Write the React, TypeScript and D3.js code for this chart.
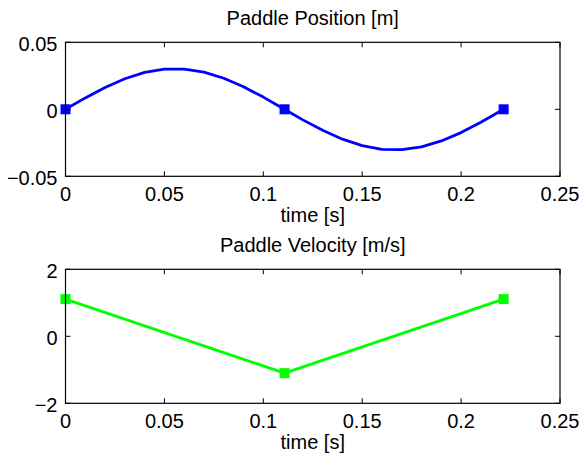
import React from "react";
import * as d3 from "d3";

const posTime = [0, 0.01, 0.02, 0.03, 0.04, 0.05, 0.06, 0.07, 0.08, 0.09, 0.1, 0.11, 0.12, 0.13, 0.14, 0.15, 0.16, 0.17, 0.18, 0.19, 0.2, 0.21, 0.2215];
const posValue = [0, 0.0085, 0.0163, 0.0228, 0.0275, 0.03, 0.03, 0.0278, 0.0232, 0.0168, 0.0091, 0.0006, -0.0079, -0.0157, -0.0223, -0.0271, -0.0299, -0.0301, -0.028, -0.0236, -0.0174, -0.0097, 0];
const knotTime = [0, 0.11075, 0.2215];
const knotPos = [0, 0, 0];
const velValue = [1.11, -1.1, 1.11];

const xTicks = [0, 0.05, 0.1, 0.15, 0.2, 0.25];
const xTickLabels = ["0", "0.05", "0.1", "0.15", "0.2", "0.25"];
const posTicks = [-0.05, 0, 0.05];
const posTickLabels = ["\u22120.05", "0", "0.05"];
const velTicks = [-2, 0, 2];
const velTickLabels = ["\u22122", "0", "2"];

const FONT = "'Liberation Sans', Arial, Helvetica, sans-serif";
const FS = 20;

type PanelProps = {
  top: number;
  bottom: number;
  title: string;
  yDomain: [number, number];
  yTicks: number[];
  yLabels: string[];
  lineX: number[];
  lineY: number[];
  markX: number[];
  markY: number[];
  color: string;
};

const LEFT = 65.5;
const RIGHT = 560;

function Panel(p: PanelProps) {
  const x = d3.scaleLinear().domain([0, 0.25]).range([LEFT, RIGHT]);
  const y = d3.scaleLinear().domain(p.yDomain).range([p.bottom, p.top]);
  const line = d3
    .line<number>()
    .x((_, i) => x(p.lineX[i]))
    .y((d) => y(d));
  const tl = 5;
  const ms = 10;
  return (
    <g>
      <rect x={LEFT} y={p.top} width={RIGHT - LEFT} height={p.bottom - p.top} fill="white" stroke="none" />
      <path d={line(p.lineY) || ""} fill="none" stroke={p.color} strokeWidth={2.8} strokeLinejoin="round" />
      {p.markX.map((t, i) => (
        <rect key={i} x={x(t) - ms / 2} y={y(p.markY[i]) - ms / 2} width={ms} height={ms} fill={p.color} />
      ))}
      <rect x={LEFT} y={p.top} width={RIGHT - LEFT} height={p.bottom - p.top} fill="none" stroke="black" strokeWidth={1.2} />
      {xTicks.map((t, i) => (
        <g key={"x" + i}>
          <line x1={x(t)} x2={x(t)} y1={p.bottom} y2={p.bottom - tl} stroke="black" strokeWidth={1} />
          <line x1={x(t)} x2={x(t)} y1={p.top} y2={p.top + tl} stroke="black" strokeWidth={1} />
          <text x={x(t)} y={p.bottom + 24.5} textAnchor="middle" fontSize={FS} fontFamily={FONT}>
            {xTickLabels[i]}
          </text>
        </g>
      ))}
      {p.yTicks.map((t, i) => (
        <g key={"y" + i}>
          <line x1={LEFT} x2={LEFT + tl} y1={y(t)} y2={y(t)} stroke="black" strokeWidth={1} />
          <line x1={RIGHT} x2={RIGHT - tl} y1={y(t)} y2={y(t)} stroke="black" strokeWidth={1} />
          <text x={LEFT - 8} y={y(t) + 9} textAnchor="end" fontSize={FS} fontFamily={FONT}>
            {p.yLabels[i]}
          </text>
        </g>
      ))}
      <text x={(LEFT + RIGHT) / 2} y={p.top - 17} textAnchor="middle" fontSize={FS} fontFamily={FONT}>
        {p.title}
      </text>
      <text x={(LEFT + RIGHT) / 2} y={p.bottom + 45.5} textAnchor="middle" fontSize={FS} fontFamily={FONT}>
        time [s]
      </text>
    </g>
  );
}

export default function App() {
  return (
    <svg
      width={581}
      height={458}
      style={{ position: "absolute", left: 0, top: 0, background: "white" }}
    >
      <rect x={0} y={0} width={581} height={458} fill="white" />
      <Panel
        top={42.3}
        bottom={176.3}
        title="Paddle Position [m]"
        yDomain={[-0.05, 0.05]}
        yTicks={posTicks}
        yLabels={posTickLabels}
        lineX={posTime}
        lineY={posValue}
        markX={knotTime}
        markY={knotPos}
        color="#0000ff"
      />
      <Panel
        top={269.3}
        bottom={403.3}
        title="Paddle Velocity [m/s]"
        yDomain={[-2, 2]}
        yTicks={velTicks}
        yLabels={velTickLabels}
        lineX={knotTime}
        lineY={velValue}
        markX={knotTime}
        markY={velValue}
        color="#00ff00"
      />
    </svg>
  );
}
